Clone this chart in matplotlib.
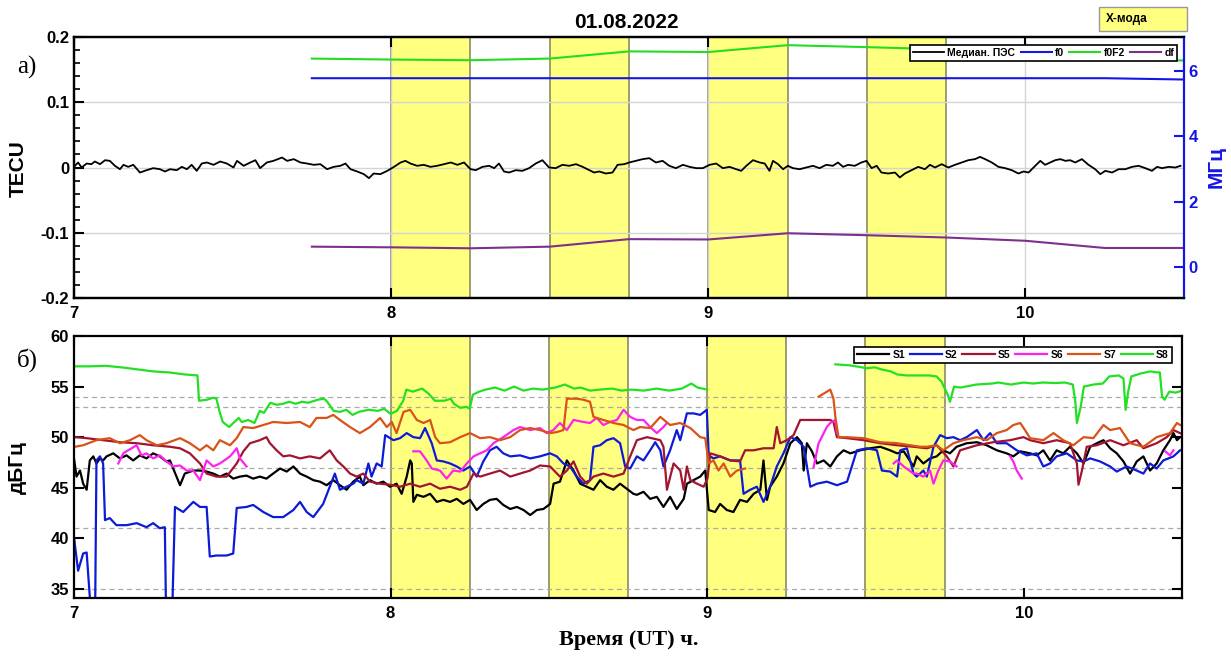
import numpy as np
import matplotlib
matplotlib.use("Agg")
import matplotlib.pyplot as plt
from matplotlib.ticker import AutoMinorLocator
from matplotlib.patches import Rectangle

plt.rcParams['font.family'] = ['Liberation Sans', 'DejaVu Sans']
plt.rcParams['font.weight'] = 'bold'

nan = np.nan

# ---- panel a) : median TEC (TECU) ----
t_tec = [7.003, 7.013, 7.024, 7.040, 7.055, 7.066, 7.082, 7.098, 7.113, 7.129, 7.145, 7.156, 7.171, 7.187,
         7.208, 7.229, 7.250, 7.271, 7.287, 7.303, 7.324, 7.340, 7.356, 7.371, 7.387, 7.403, 7.419, 7.440,
         7.461, 7.482, 7.503, 7.514, 7.535, 7.556, 7.572, 7.587, 7.608, 7.629, 7.656, 7.672, 7.693, 7.714,
         7.735, 7.756, 7.777, 7.798, 7.819, 7.840, 7.856, 7.872, 7.893, 7.914, 7.930, 7.945, 7.966, 7.988,
         8.009, 8.030, 8.045, 8.061, 8.082, 8.103, 8.124, 8.145, 8.167, 8.188, 8.209, 8.230, 8.245,
         8.251, 8.267, 8.288, 8.309, 8.325, 8.340, 8.356, 8.372, 8.393, 8.414, 8.435, 8.456, 8.477, 8.498,
         8.519, 8.540, 8.561, 8.583, 8.604, 8.625, 8.640, 8.656, 8.677, 8.698, 8.714, 8.735, 8.751, 8.772,
         8.793, 8.814, 8.835, 8.856, 8.877, 8.898, 8.920, 8.941, 8.962, 8.983, 9.004, 9.025, 9.046, 9.067,
         9.088, 9.104, 9.120, 9.141, 9.162, 9.178, 9.193, 9.204, 9.220, 9.236, 9.251, 9.267, 9.288, 9.309,
         9.330, 9.351, 9.372, 9.393, 9.409, 9.425, 9.441, 9.462, 9.483, 9.499, 9.515, 9.531, 9.546, 9.567,
         9.589, 9.604, 9.620, 9.641, 9.662, 9.683, 9.699, 9.715, 9.736, 9.757, 9.778, 9.799, 9.820, 9.841,
         9.857, 9.873, 9.894, 9.915, 9.936, 9.957, 9.978, 9.994, 10.010, 10.031, 10.047, 10.062, 10.078,
         10.094, 10.110, 10.126, 10.141, 10.157, 10.178, 10.199, 10.220, 10.236, 10.252, 10.273, 10.294,
         10.315, 10.336, 10.357, 10.378, 10.399, 10.415, 10.431, 10.452, 10.473, 10.489]
tec = [0.0026, 0.0077, 0.0, 0.0061, 0.0051, 0.0092, 0.0051, 0.0112, 0.0102, 0.0026, -0.0026, 0.0041, 0.001,
       0.0041, -0.0077, -0.0041, -0.001, -0.0026, -0.0061, -0.0026, -0.0041, 0.001, -0.0026, 0.0041,
       -0.0051, 0.0061, 0.0077, 0.0041, 0.0092, 0.0061, 0.0, 0.0102, 0.0026, 0.0077, 0.0112, -0.001,
       0.0077, 0.0102, 0.0153, 0.0102, 0.0128, 0.0077, 0.0061, 0.0041, 0.0051, -0.0026, 0.001, 0.0026,
       0.0061, -0.0026, -0.0061, -0.0102, -0.0163, -0.0092, -0.0102, -0.0051, 0.001, 0.0077, 0.0102,
       0.0061, 0.0026, 0.0041, 0.001, 0.0026, 0.0051, 0.0077, 0.0041, 0.0077, 0.0,
       -0.0026, -0.0041, 0.001, 0.0026, -0.001, 0.0061, -0.0061, -0.0077, -0.0041, -0.0051, -0.001,
       0.0061, 0.0112, 0.0, -0.001, 0.0041, 0.0026, 0.0051, 0.001, -0.0041, -0.0077, -0.0061, -0.0092,
       -0.0077, 0.0041, 0.0051, 0.0077, 0.0102, 0.0128, 0.0143, 0.0077, 0.0102, 0.0026, -0.001, 0.0041,
       0.001, -0.001, -0.001, 0.0041, 0.0061, -0.001, 0.001, -0.0026, -0.0051, 0.0026, 0.0112, 0.0077,
       0.0061, -0.0051, 0.0102, 0.0051, -0.0026, 0.0026, -0.001, -0.0026, 0.0, 0.0026, -0.001, 0.0041,
       0.0026, 0.0077, 0.001, 0.0041, 0.0026, 0.0077, 0.0102, -0.001, 0.0026, -0.0077, -0.0092, -0.0077,
       -0.0153, -0.0092, -0.0041, 0.001, -0.0026, 0.0041, 0.0, 0.0051, 0.0, 0.0041, 0.0077, 0.0112,
       0.0128, 0.0163, 0.0128, 0.0077, 0.001, -0.001, -0.0041, -0.0092, -0.0061, -0.0077, 0.0026, 0.0102,
       0.0041, 0.0077, 0.0112, 0.0128, 0.0102, 0.0112, 0.0077, 0.0128, 0.0041, -0.0026, -0.0102, -0.0051,
       -0.0077, -0.0026, -0.0026, 0.001, 0.0026, -0.001, -0.0051, 0.001, -0.001, 0.001, 0.0, 0.0026]

# ionosonde frequencies (MHz), every 15 min
t_ion = [7.75, 8.0, 8.25, 8.5, 8.75, 9.0, 9.25, 9.5, 9.75, 10.0, 10.25, 10.5]
f0 = [5.77, 5.77, 5.77, 5.77, 5.77, 5.77, 5.77, 5.77, 5.77, 5.77, 5.77, 5.73]
f0f2 = [6.37, 6.34, 6.32, 6.37, 6.59, 6.57, 6.78, 6.72, 6.65, 6.50, 6.38, 6.31]
df = [0.62, 0.60, 0.57, 0.62, 0.85, 0.84, 1.03, 0.97, 0.90, 0.80, 0.58, 0.58]

# X-mode intervals (start hours, 15 min each)
xmode_start = [8.0, 8.5, 9.0, 9.5]

# ---- panel b) : signal level per satellite (dBHz) ----
t_s1 = [7.000, 7.008, 7.019, 7.029, 7.040, 7.050, 7.061, 7.071, 7.082, 7.092, 7.103, 7.124, 7.145, 7.166,
        7.187, 7.208, 7.229, 7.250, 7.271, 7.292, 7.303, 7.324, 7.335, 7.350, 7.377, 7.398, 7.419, 7.440,
        7.461, 7.482, 7.503, 7.524, 7.545, 7.566, 7.587, 7.608, 7.629, 7.651, 7.672, 7.693, 7.714, 7.735,
        7.756, 7.777, 7.798, 7.819, 7.840, 7.861, 7.882, 7.903, 7.914, 7.935, 7.956, 7.977, 7.998, 8.019,
        8.035, 8.051, 8.062, 8.067, 8.072, 8.083, 8.104, 8.125, 8.146, 8.167, 8.188, 8.209, 8.230, 8.251,
        8.272, 8.293, 8.314, 8.335, 8.356, 8.378, 8.399, 8.420, 8.441, 8.462, 8.483, 8.504, 8.515, 8.535,
        8.557, 8.578, 8.599, 8.620, 8.641, 8.662, 8.683, 8.704, 8.725, 8.746, 8.767, 8.778, 8.799, 8.820,
        8.841, 8.862, 8.883, 8.904, 8.926, 8.936, 8.957, 8.978, 8.994, 9.005, 9.025, 9.041, 9.062, 9.083,
        9.104, 9.126, 9.147, 9.168, 9.178, 9.189, 9.199, 9.220, 9.241, 9.263, 9.284, 9.299, 9.305, 9.315,
        9.331, 9.347, 9.368, 9.389, 9.410, 9.431, 9.452, 9.484, 9.515, 9.547, 9.578, 9.600, 9.621, 9.652,
        9.662, 9.683, 9.704, 9.725, 9.746, 9.767, 9.788, 9.820, 9.852, 9.883, 9.915, 9.946, 9.967, 9.989,
        10.020, 10.041, 10.062, 10.083, 10.104, 10.125, 10.146, 10.168, 10.189, 10.210, 10.231, 10.252,
        10.273, 10.294, 10.315, 10.336, 10.357, 10.378, 10.399, 10.420, 10.441, 10.462, 10.473, 10.484,
        10.494]
s1 = [47.9, 46.1, 46.7, 45.4, 44.8, 47.7, 48.1, 47.4, 47.9, 47.7, 48.1, 48.4, 47.9, 48.2, 47.7, 48.2, 47.9,
      48.4, 48.1, 47.6, 47.7, 46.1, 45.25, 46.4, 46.7, 46.7, 46.6, 46.4, 46.1, 46.4, 45.9, 46.1, 46.2, 45.9,
      46.1, 45.9, 46.4, 46.9, 46.6, 47.1, 46.4, 46.1, 45.75, 45.6, 45.25, 45.75, 45.25, 44.8, 45.6, 46.1,
      45.25, 45.75, 45.4, 45.6, 45.1, 45.4, 44.4, 46.1, 47.7, 47.4, 43.6, 44.3, 44.1, 44.4, 43.6, 43.8, 43.6,
      43.9, 43.4, 43.8, 42.8, 43.4, 43.8, 43.9, 43.3, 42.9, 43.1, 42.8, 42.3, 42.8, 42.9, 43.4, 45.4, 45.6,
      47.7, 46.7, 45.4, 45.1, 44.8, 45.75, 45.1, 44.8, 45.4, 44.9, 44.4, 44.3, 44.6, 43.9, 44.1, 43.1, 44.1,
      42.9, 43.9, 45.4, 45.75, 46.1, 46.7, 42.8, 42.6, 43.4, 42.8, 42.6, 43.8, 43.6, 44.4, 44.8, 47.7, 43.8,
      45.1, 46.1, 47.4, 49.4, 50.0, 49.4, 46.7, 49.4, 48.6, 47.4, 47.7, 47.1, 48.1, 48.7, 48.4, 48.7, 48.9,
      49.05, 48.7, 48.4, 48.6, 47.1, 48.1, 47.4, 47.9, 48.1, 48.7, 48.4, 49.05, 49.4, 49.5, 49.2, 48.7,
      48.4, 48.1, 48.6, 48.4, 48.2, 48.7, 47.7, 48.7, 48.4, 49.05, 48.4, 47.4, 49.05, 49.4, 49.7, 48.9,
      48.4, 47.6, 46.4, 47.6, 48.1, 46.7, 47.4, 48.7, 49.7, 50.4, 49.7, 50.0]

t_s2 = [7.000, 7.013, 7.029, 7.040, 7.050, 7.061, 7.066, 7.071, 7.082, 7.092, 7.098, 7.113, 7.134, 7.166,
        7.198, 7.229, 7.250, 7.271, 7.287, 7.292, 7.308, 7.319, 7.345, 7.377, 7.398, 7.419, 7.429, 7.450,
        7.482, 7.503, 7.514, 7.545, 7.566, 7.598, 7.629, 7.661, 7.693, 7.714, 7.735, 7.756, 7.787, 7.808,
        7.824, 7.840, 7.861, 7.882, 7.893, 7.914, 7.930, 7.940, 7.956, 7.972, 7.983, 8.009, 8.030, 8.051,
        8.072, 8.093, 8.109, 8.130, 8.146, 8.167, 8.188, 8.209, 8.230, 8.251, 8.272, 8.293, 8.314, 8.335,
        8.356, 8.378, 8.409, 8.441, 8.472, 8.504, 8.525, 8.546, 8.567, 8.588, 8.609, 8.630, 8.641, 8.662,
        8.683, 8.704, 8.725, 8.741, 8.757, 8.778, 8.799, 8.820, 8.836, 8.852, 8.862, 8.883, 8.904, 8.915,
        8.936, 8.957, 8.978, 8.999, 9.005, 9.020, 9.041, 9.073, 9.104, 9.115, 9.136, 9.157, 9.178, 9.199,
        9.220, 9.241, 9.263, 9.284, 9.305, 9.326, 9.347, 9.378, 9.410, 9.442, 9.457, 9.473, 9.505, 9.536,
        9.552, 9.578, 9.600, 9.610, 9.631, 9.652, 9.662, 9.683, 9.694, 9.715, 9.736, 9.757, 9.778, 9.799,
        9.820, 9.852, 9.873, 9.894, 9.915, 9.946, 9.978, 10.010, 10.041, 10.062, 10.083, 10.104, 10.136,
        10.168, 10.189, 10.210, 10.241, 10.273, 10.294, 10.325, 10.357, 10.378, 10.399, 10.420, 10.441,
        10.473, 10.494]
s2 = [40.1, 36.8, 38.5, 38.6, 34.2, 30.0, 30.0, 47.7, 48.1, 47.4, 41.8, 42.0, 41.3, 41.3, 41.5, 41.1, 41.5,
      41.0, 41.1, 30.0, 30.0, 43.1, 42.6, 43.6, 43.1, 43.1, 38.2, 38.3, 38.3, 38.5, 43.0, 43.1, 43.3, 42.6,
      42.1, 42.1, 42.8, 43.6, 42.6, 42.1, 43.4, 45.1, 46.4, 44.8, 45.1, 45.4, 45.75, 45.4, 47.4, 46.1, 47.4,
      47.1, 50.2, 49.7, 49.9, 50.4, 50.0, 49.9, 50.9, 49.4, 47.7, 47.6, 47.4, 47.1, 46.7, 47.1, 46.1, 47.6,
      48.7, 49.05, 48.4, 48.1, 48.2, 47.9, 48.1, 48.4, 48.1, 47.4, 47.1, 46.1, 45.4, 45.75, 49.05, 49.2,
      49.7, 49.9, 49.4, 47.1, 46.9, 48.1, 47.7, 48.7, 49.5, 48.7, 47.1, 48.7, 50.7, 49.7, 52.35, 52.35,
      52.2, 52.7, 48.2, 47.9, 48.1, 47.7, 47.7, 44.4, 44.8, 45.1, 43.6, 45.1, 47.1, 48.4, 50.0, 49.7, 49.05,
      45.1, 45.4, 45.6, 45.25, 45.6, 47.1, 48.7, 48.9, 48.7, 46.7, 46.6, 46.1, 48.7, 48.9, 46.4, 46.1, 46.7,
      46.1, 49.05, 50.2, 49.9, 50.0, 49.7, 50.0, 50.7, 49.7, 50.4, 49.4, 49.4, 48.7, 48.2, 48.4, 47.1, 47.4,
      48.1, 48.4, 47.7, 47.6, 47.9, 47.6, 47.1, 46.6, 47.1, 46.7, 46.4, 47.4, 46.9, 47.7, 48.1, 48.7]

t_s5 = [7.003, 7.040, 7.092, 7.145, 7.198, 7.250, 7.303, 7.335, 7.366, 7.398, 7.419, 7.450, 7.482, 7.514,
        7.535, 7.556, 7.587, 7.608, 7.619, 7.640, 7.661, 7.682, 7.714, 7.745, 7.777, 7.808, 7.830, 7.851,
        7.872, 7.893, 7.914, 7.935, 7.967, 7.998, 8.030, 8.062, 8.093, 8.125, 8.156, 8.188, 8.220, 8.241,
        8.262, 8.283, 8.314, 8.346, 8.378, 8.409, 8.441, 8.472, 8.504, 8.535, 8.557, 8.578, 8.599, 8.620,
        8.641, 8.672, 8.704, 8.736, 8.757, 8.778, 8.810, 8.852, 8.862, 8.873, 8.894, 8.915, 8.926, 8.936,
        8.947, 8.968, 8.989, 9.001, 9.010, 9.041, 9.073, 9.104, 9.120, 9.147, 9.178, 9.210, 9.220, 9.231,
        9.252, 9.273, 9.294, 9.326, 9.357, 9.389, 9.399, 9.410, 9.442, 9.494, 9.547, 9.600, 9.652, 9.694,
        9.725, 9.757, 9.778, 9.799, 9.852, 9.904, 9.957, 9.999, 10.020, 10.062, 10.104, 10.146, 10.168,
        10.173, 10.184, 10.199, 10.231, 10.273, 10.315, 10.357, 10.378, 10.420, 10.452, 10.473, 10.494]
s5 = [50.0, 49.9, 49.7, 49.5, 49.4, 49.2, 49.05, 48.9, 48.4, 47.4, 46.4, 46.1, 46.1, 47.4, 48.6, 49.4, 49.7,
      50.0, 49.4, 48.7, 48.1, 48.2, 47.9, 48.1, 47.9, 48.7, 47.7, 47.1, 46.4, 46.1, 46.4, 45.6, 45.4, 45.3,
      45.1, 45.4, 45.1, 45.4, 44.9, 45.1, 44.8, 45.1, 46.4, 46.1, 46.4, 46.7, 46.1, 46.4, 46.7, 47.2, 47.1,
      46.1, 46.7, 47.6, 46.1, 45.4, 46.1, 46.4, 46.1, 46.4, 48.1, 49.7, 50.0, 49.7, 49.05, 44.8, 47.4, 46.7,
      44.8, 47.1, 45.75, 45.4, 45.1, 45.9, 48.4, 48.1, 47.7, 47.6, 48.7, 48.7, 48.9, 48.9, 51.0, 49.4, 49.7,
      50.2, 51.7, 51.7, 51.7, 51.7, 51.5, 50.0, 49.9, 49.7, 49.4, 49.2, 49.05, 48.9, 49.2, 48.1, 47.1, 48.7,
      49.2, 49.5, 49.7, 50.0, 49.7, 49.4, 49.7, 49.4, 47.4, 45.3, 46.7, 49.05, 49.2, 49.7, 49.2, 49.7, 48.9,
      49.4, 50.0, 50.7, 50.4]

t_s6 = [7.140, 7.156, 7.171, 7.198, 7.213, 7.229, 7.250, 7.271, 7.292, 7.313, 7.335, 7.356, 7.377, 7.398,
        7.419, 7.440, 7.461, 7.493, 7.514, 7.524, 7.545, 7.560,
        8.072, 8.093, 8.114, 8.130, 8.156, 8.177, 8.198, 8.220, 8.241, 8.262, 8.283, 8.304, 8.325, 8.356,
        8.388, 8.409, 8.441, 8.472, 8.493, 8.514, 8.535, 8.557, 8.578, 8.609, 8.630, 8.651, 8.672, 8.693,
        8.715, 8.736, 8.757, 8.778, 8.799, 8.820, 8.841, 8.862, 8.873, 8.880,
        9.336, 9.352, 9.378, 9.389, 9.405, 9.410, 9.420,
        9.589, 9.600, 9.621, 9.652, 9.662, 9.683, 9.704, 9.715, 9.730, 9.746, 9.767, 9.788, 9.800,
        9.957, 9.967, 9.978, 9.994, 10.000,
        10.447, 10.462, 10.473]
s6 = [47.4, 48.4, 48.7, 49.2, 48.2, 48.4, 47.9, 48.2, 47.6, 47.1, 47.2, 46.7, 46.7, 45.75, 47.7, 47.1, 47.4,
      48.1, 48.9, 47.9, 47.1, nan,
      48.6, 48.6, 47.7, 46.9, 46.7, 45.9, 46.7, 46.6, 47.4, 48.1, 48.4, 48.7, 49.4, 50.0, 50.7, 51.0, 50.7,
      50.9, 50.4, 50.7, 51.4, 50.7, 51.7, 51.5, 51.4, 51.9, 51.2, 51.5, 51.7, 52.7, 52.0, 51.7, 51.7, 51.0,
      50.4, 51.0, 51.4, nan,
      47.0, 49.4, 51.0, 51.4, 51.7, 50.4, nan,
      47.4, 47.7, 47.1, 46.4, 46.4, 46.1, 46.7, 45.4, 46.7, 47.7, 47.6, 47.1, nan,
      48.1, 47.6, 46.7, 45.9, nan,
      48.6, 48.2, 48.7]

t_s7 = [7.003, 7.029, 7.071, 7.113, 7.145, 7.177, 7.208, 7.229, 7.261, 7.292, 7.335, 7.366, 7.398, 7.419,
        7.440, 7.461, 7.493, 7.514, 7.535, 7.566, 7.598, 7.629, 7.672, 7.714, 7.745, 7.766, 7.798, 7.819,
        7.840, 7.872, 7.903, 7.935, 7.967, 7.988, 8.004, 8.019, 8.041, 8.062, 8.083, 8.104, 8.125, 8.141,
        8.156, 8.188, 8.220, 8.251, 8.283, 8.314, 8.346, 8.378, 8.409, 8.441, 8.472, 8.504, 8.525, 8.546,
        8.557, 8.588, 8.609, 8.630, 8.641, 8.672, 8.704, 8.736, 8.767, 8.788, 8.820, 8.852, 8.883, 8.915,
        8.947, 8.978, 8.994, 9.005, 9.020, 9.036, 9.052, 9.073, 9.094, 9.120, 9.130,
        9.352, 9.368, 9.389, 9.399, 9.405, 9.415, 9.442, 9.494, 9.547, 9.600, 9.673, 9.694, 9.725, 9.746,
        9.778, 9.809, 9.852, 9.883, 9.915, 9.946, 9.967, 9.989, 10.004, 10.020, 10.062, 10.094, 10.125,
        10.157, 10.189, 10.220, 10.252, 10.273, 10.304, 10.336, 10.378, 10.420, 10.462, 10.484, 10.494]
s7 = [49.05, 49.2, 49.7, 49.9, 49.4, 49.7, 50.2, 49.7, 49.2, 49.4, 49.9, 49.4, 48.7, 49.2, 48.7, 49.7, 49.2,
      49.9, 51.0, 50.9, 51.2, 51.5, 51.4, 51.5, 51.0, 51.9, 51.9, 52.2, 51.7, 51.0, 50.4, 51.0, 51.9, 51.0,
      51.5, 50.4, 52.5, 52.7, 51.7, 51.4, 51.7, 50.0, 49.4, 49.5, 50.0, 50.4, 49.9, 50.0, 49.7, 50.0, 50.7,
      50.9, 50.7, 50.4, 50.5, 50.7, 53.8, 53.8, 53.7, 53.5, 52.0, 51.7, 51.4, 51.2, 50.7, 51.0, 50.9, 52.0,
      51.2, 51.4, 50.9, 50.0, 49.9, 47.4, 47.7, 46.7, 47.4, 46.1, 46.7, 46.9, nan,
      54.0, 54.3, 54.7, 53.8, 52.0, 50.0, 50.0, 49.9, 49.5, 49.4, 49.05, 49.05, 49.2, 48.7, 49.4, 49.7,
      50.0, 49.7, 50.4, 50.7, 51.2, 51.4, 50.7, 49.9, 49.7, 50.4, 49.7, 49.2, 50.0, 49.9, 51.2, 50.7, 50.9,
      49.4, 49.05, 50.0, 50.4, 51.4, 51.2]

t_s8 = [7.000, 7.050, 7.100, 7.150, 7.200, 7.250, 7.300, 7.350, 7.390, 7.395, 7.420, 7.440, 7.450, 7.460,
        7.470, 7.490, 7.500, 7.520, 7.530, 7.550, 7.570, 7.587, 7.600, 7.620, 7.640, 7.660, 7.680, 7.700,
        7.720, 7.740, 7.770, 7.790, 7.800, 7.820, 7.840, 7.860, 7.880, 7.900, 7.930, 7.960, 7.980, 8.000,
        8.020, 8.040, 8.050, 8.070, 8.100, 8.120, 8.140, 8.170, 8.190, 8.200, 8.220, 8.240, 8.250, 8.260,
        8.280, 8.300, 8.330, 8.360, 8.390, 8.420, 8.450, 8.480, 8.520, 8.550, 8.580, 8.600, 8.630, 8.660,
        8.700, 8.730, 8.760, 8.800, 8.840, 8.880, 8.920, 8.950, 8.970, 9.000, 9.010,
        9.405, 9.450, 9.490, 9.500, 9.530, 9.550, 9.580, 9.600, 9.630, 9.700, 9.725, 9.740, 9.760, 9.767,
        9.780, 9.800, 9.850, 9.900, 9.920, 9.960, 10.000, 10.030, 10.060, 10.100, 10.130, 10.155, 10.163,
        10.168, 10.180, 10.190, 10.220, 10.250, 10.270, 10.300, 10.315, 10.322, 10.330, 10.340, 10.370,
        10.400, 10.420, 10.430, 10.437, 10.445, 10.460, 10.480, 10.500]
s8 = [57.0, 57.0, 57.05, 56.9, 56.7, 56.5, 56.4, 56.2, 56.1, 53.6, 53.7, 53.9, 53.8, 52.5, 51.5, 51.0, 51.3,
      51.9, 51.5, 51.7, 51.4, 52.6, 52.4, 53.4, 53.2, 53.3, 53.5, 53.3, 53.5, 53.4, 53.7, 53.8, 53.5, 52.6,
      52.5, 52.7, 52.2, 52.5, 52.7, 52.6, 52.8, 52.3, 52.6, 53.6, 54.7, 54.5, 54.8, 54.3, 53.6, 53.6, 53.8,
      53.3, 52.9, 53.0, 52.8, 54.2, 54.5, 54.7, 54.9, 54.6, 55.0, 54.6, 54.8, 54.7, 54.9, 55.2, 54.8, 54.9,
      54.6, 54.7, 54.8, 54.6, 54.7, 54.6, 54.8, 54.6, 54.8, 55.3, 54.9, 54.7, nan,
      57.2, 57.1, 56.9, 56.8, 56.9, 56.7, 56.5, 56.2, 56.1, 56.1, 56.0, 55.5, 54.2, 53.5, 55.0, 54.9, 55.2,
      55.3, 55.4, 55.2, 55.4, 55.3, 55.4, 55.35, 55.4, 55.2, 53.5, 51.4, 53.0, 55.0, 55.2, 55.3, 56.0, 56.1,
      55.8, 52.7, 54.5, 56.0, 56.3, 56.5, 56.4, 56.4, 54.0, 53.7, 54.5, 54.4, 54.6]

yellow = '#ffff80'
span_edge = '#8c8c5c'
grid_c = '#d4d4d4'
serif = ['Liberation Serif', 'DejaVu Serif']

fig = plt.figure(figsize=(12.31, 6.57), dpi=100)
ax = fig.add_axes([0.0601, 0.5464, 0.9017, 0.3973])
ax2 = ax.twinx()
axb = fig.add_axes([0.0601, 0.0898, 0.9001, 0.3988])

for a in (ax, axb):
    for s in xmode_start:
        a.axvspan(s, s + 0.25, facecolor=yellow, edgecolor=span_edge, lw=1.2, zorder=0)

# top panel grid
for y in (-0.1, 0, 0.1):
    ax.axhline(y, color=grid_c, lw=1, zorder=0.5)
for x in (8, 9, 10):
    ax.axvline(x, color=grid_c, lw=1, zorder=0.5)

l_tec, = ax.plot(t_tec, tec, color='black', lw=1.3, label='Медиан. ПЭС', zorder=3)
l_f0, = ax2.plot(t_ion, f0, color='#1515e6', lw=1.5, label='f0')
l_f0f2, = ax2.plot(t_ion, f0f2, color='#22dd22', lw=1.5, label='f0F2')
l_df, = ax2.plot(t_ion, df, color='#7e2f8e', lw=1.5, label='df')

ax.set_xlim(7, 10.5)
ax.set_ylim(-0.2, 0.2)
ax.set_yticks([-0.2, -0.1, 0, 0.1, 0.2])
ax.set_yticklabels(['-0.2', '-0.1', '0', '0.1', '0.2'])
ax.set_xticks([7, 8, 9, 10])
ax.yaxis.set_minor_locator(AutoMinorLocator(5))
ax.tick_params(axis='both', which='major', direction='in', length=7, width=1.5, labelsize=12, top=True)
ax.tick_params(axis='y', which='minor', direction='in', length=4, width=1.2)
ax.tick_params(axis='x', pad=6)
for sp in ax.spines.values():
    sp.set_linewidth(1.6)
ax.spines['right'].set_visible(False)

ax2.set_ylim(-0.95, 7.03)
ax2.set_yticks([0, 2, 4, 6])
ax2.tick_params(axis='y', direction='in', length=7, width=1.5, colors='#1515e6', labelsize=12)
for sp in ax2.spines.values():
    sp.set_linewidth(1.6)
ax2.spines['right'].set_color('#1515e6')

leg = ax2.legend(handles=[l_tec, l_f0, l_f0f2, l_df], loc='upper right', bbox_to_anchor=(0.994, 0.97),
                 borderaxespad=0, ncol=4, fontsize=7.5, handlelength=3.0, handletextpad=0.3,
                 columnspacing=0.5, borderpad=0.3, fancybox=False, framealpha=1)
leg.get_frame().set_edgecolor('black')
leg.get_frame().set_linewidth(1.2)
for txt in leg.get_texts():
    txt.set_fontweight('bold')

# bottom panel
for y in (35, 41, 47, 53, 54):
    axb.axhline(y, color='#aaaaaa', lw=0.9, ls=(0, (4, 3)), zorder=0.5)

s_lines = []
s_lines += axb.plot(t_s1, s1, color='black', lw=1.6, label='S1')
s_lines += axb.plot(t_s2, s2, color='#0d1bd6', lw=1.6, label='S2')
s_lines += axb.plot(t_s5, s5, color='#a2142f', lw=1.6, label='S5')
s_lines += axb.plot(t_s6, s6, color='#ff22ee', lw=1.6, label='S6')
s_lines += axb.plot(t_s7, s7, color='#d95319', lw=1.6, label='S7')
s_lines += axb.plot(t_s8, s8, color='#22e022', lw=1.6, label='S8')

axb.set_xlim(7, 10.5)
axb.set_ylim(34.1, 60)
axb.set_yticks([35, 40, 45, 50, 55, 60])
axb.set_xticks([7, 8, 9, 10])
axb.tick_params(axis='both', direction='in', length=7, width=1.5, labelsize=12, top=True, right=True)
axb.tick_params(axis='x', pad=6)
for sp in axb.spines.values():
    sp.set_linewidth(1.6)

legb = axb.legend(handles=s_lines, loc='upper right', bbox_to_anchor=(0.991, 0.958), borderaxespad=0,
                  ncol=6, fontsize=7.5, handlelength=3.1, handletextpad=0.3, columnspacing=0.45,
                  borderpad=0.3, fancybox=False, framealpha=1)
legb.get_frame().set_edgecolor('black')
legb.get_frame().set_linewidth(1.2)
for txt in legb.get_texts():
    txt.set_fontweight('bold')

# labels and annotations
fig.text(0.0145, 0.744, 'TECU', rotation=90, ha='center', va='center', fontsize=15, fontweight='bold')
fig.text(0.0145, 0.289, 'дБГц', rotation=90, ha='center', va='center', fontsize=15, fontweight='bold')
fig.text(0.988, 0.746, 'МГц', rotation=90, ha='center', va='center', fontsize=15, fontweight='bold',
         color='#1515e6')
fig.text(0.509, 0.966, '01.08.2022', ha='center', va='center', fontsize=15, fontweight='bold')
fig.text(0.511, 0.026, 'Время (UT) ч.', ha='center', va='center', fontsize=16, fontweight='bold',
         family=serif)
fig.text(0.014, 0.898, 'а)', ha='left', va='center', fontsize=18, fontweight='normal', family=serif)
fig.text(0.014, 0.452, 'б)', ha='left', va='center', fontsize=18, fontweight='normal', family=serif)

fig.patches.append(Rectangle((0.8928, 0.9528), 0.0715, 0.0365, transform=fig.transFigure,
                             facecolor=yellow, edgecolor='#999999', lw=1))
fig.text(0.8985, 0.971, 'X-мода', ha='left', va='center', fontsize=8.5, fontweight='bold')

fig.savefig('out.png', dpi=100)
